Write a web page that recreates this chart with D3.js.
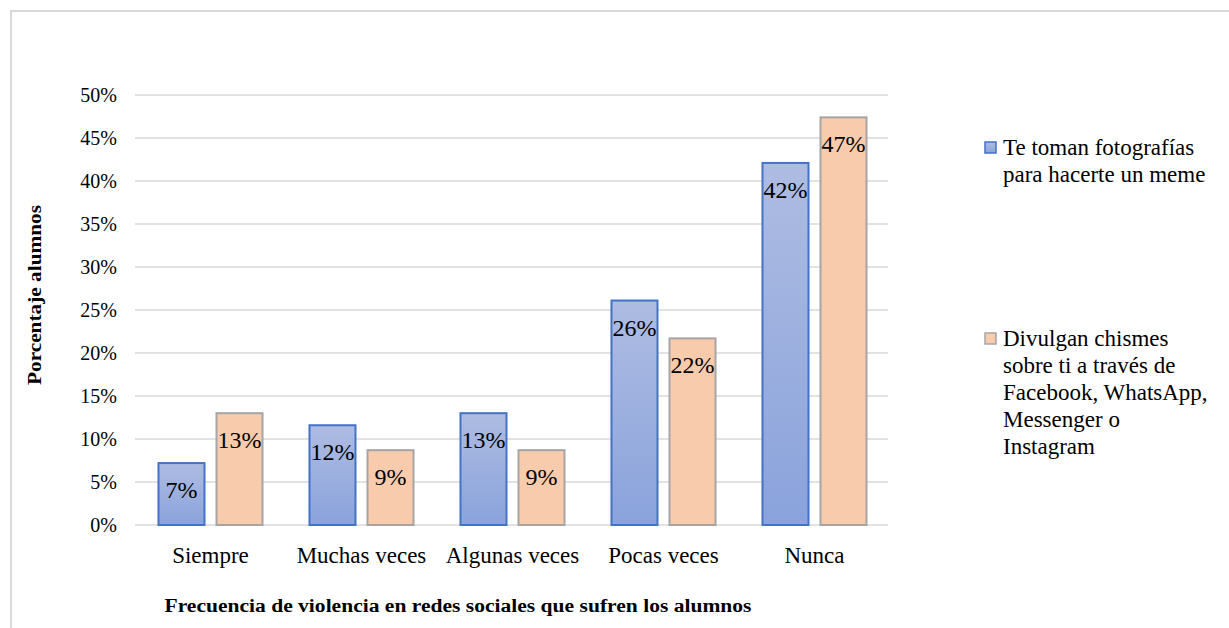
<!DOCTYPE html>
<html>
<head>
<meta charset="utf-8">
<script src="https://cdn.jsdelivr.net/npm/d3@7"></script>
<style>
html,body{margin:0;padding:0;background:#fff;}
svg{display:block;font-family:"Liberation Serif","Times New Roman",serif;}
</style>
</head>
<body>
<svg id="chart" width="1229" height="628"></svg>
<script>
const categories = ["Siempre", "Muchas veces", "Algunas veces", "Pocas veces", "Nunca"];
const seriesNames = ["Te toman fotografías para hacerte un meme",
  "Divulgan chismes sobre ti a través de Facebook, WhatsApp, Messenger o Instagram"];
const fotosValues = [0.072, 0.116, 0.130, 0.261, 0.421];
const chismesValues = [0.130, 0.087, 0.087, 0.217, 0.474];
const yTicks = [0, 0.05, 0.10, 0.15, 0.20, 0.25, 0.30, 0.35, 0.40, 0.45, 0.50];
const legendLines = [["Te toman fotografías", "para hacerte un meme"],
  ["Divulgan chismes", "sobre ti a través de", "Facebook, WhatsApp,", "Messenger o", "Instagram"]];
const yTitle = "Porcentaje alumnos";
const xTitle = "Frecuencia de violencia en redes sociales que sufren  los alumnos";

(function(){
const svg = d3.select("#chart");
const defs = svg.append("defs");
const gBlue = defs.append("linearGradient").attr("id","gBlue").attr("x1",0).attr("y1",0).attr("x2",0).attr("y2",1);
gBlue.append("stop").attr("offset","0%").attr("stop-color","#aebce2");
gBlue.append("stop").attr("offset","100%").attr("stop-color","#8aa3dc");

// frame
svg.append("rect").attr("x",11).attr("y",11).attr("width",1400).attr("height",800)
  .attr("fill","none").attr("stroke","#d9d9d9").attr("stroke-width",2);

const pLeft = 135, pRight = 890, pTop = 95, pBottom = 525;
const y = d3.scaleLinear().domain([0,0.5]).range([pBottom, pTop]);
const x0 = d3.scaleBand().domain(categories).range([pLeft, pRight]).paddingInner(0.311).paddingOuter(0.1555);
const x1 = d3.scaleBand().domain([0,1]).range([0, x0.bandwidth()]).paddingInner(0.2069);

// gridlines
svg.append("g").selectAll("line").data(yTicks).join("line")
  .attr("x1", pLeft).attr("x2", pRight-2)
  .attr("y1", d=>y(d)).attr("y2", d=>y(d))
  .attr("stroke","#d9d9d9").attr("stroke-width",1.5);

// y tick labels
const fmt = d3.format(".0%");
svg.append("g").selectAll("text").data(yTicks).join("text")
  .attr("x", 117).attr("y", d=>y(d)).attr("dy","0.35em")
  .attr("text-anchor","end").attr("font-size",20).attr("fill","#000")
  .text(d=>fmt(d));

const data = categories.map((c,i)=>({cat:c, vals:[fotosValues[i], chismesValues[i]]}));
const fills = ["url(#gBlue)", "#f8cbad"];
const strokes = ["#4472c4", "#a5a5a5"];

const groups = svg.append("g").selectAll("g").data(data).join("g")
  .attr("transform", d=>`translate(${x0(d.cat)},0)`);
groups.selectAll("rect").data(d=>d.vals.map((v,k)=>({v,k}))).join("rect")
  .attr("x", d=>x1(d.k)).attr("width", x1.bandwidth())
  .attr("y", d=>y(d.v)).attr("height", d=>y(0)-y(d.v))
  .attr("fill", d=>fills[d.k]).attr("stroke", d=>strokes[d.k]).attr("stroke-width",2);
groups.selectAll("text").data(d=>d.vals.map((v,k)=>({v,k}))).join("text")
  .attr("x", d=>x1(d.k)+x1.bandwidth()/2).attr("y", d=>y(d.v)+35)
  .attr("text-anchor","middle").attr("font-size",24).attr("fill","#000")
  .text(d=>fmt(d.v));

// category labels
svg.append("g").selectAll("text").data(categories).join("text")
  .attr("x", d=>x0(d)+x0.bandwidth()/2).attr("y", 563)
  .attr("text-anchor","middle").attr("font-size",23).attr("fill","#000")
  .text(d=>d);

// axis titles
svg.append("text").attr("transform","translate(41,295) rotate(-90)")
  .attr("text-anchor","middle").attr("font-size",19).attr("font-weight","bold")
  .attr("textLength",180).attr("lengthAdjust","spacingAndGlyphs")
  .text(yTitle);
svg.append("text").attr("x",458).attr("y",612)
  .attr("text-anchor","middle").attr("font-size",18.5).attr("font-weight","bold")
  .attr("textLength",587).attr("lengthAdjust","spacingAndGlyphs")
  .text(xTitle);

// legend
const legY = [142, 333];
const legend = svg.append("g").selectAll("g").data(seriesNames).join("g");
legend.append("rect").attr("x",985).attr("y",(d,i)=>legY[i]).attr("width",11).attr("height",11)
  .attr("fill",(d,i)=>fills[i]).attr("stroke",(d,i)=>strokes[i]).attr("stroke-width",1.5);
legend.append("text").attr("font-size",23).attr("fill","#000")
  .each(function(d,i){
    d3.select(this).selectAll("tspan").data(legendLines[i]).join("tspan")
      .attr("x",1003).attr("y",(l,j)=>legY[i]+13+j*27).text(l=>l);
  });
})();
</script>
</body>
</html>
